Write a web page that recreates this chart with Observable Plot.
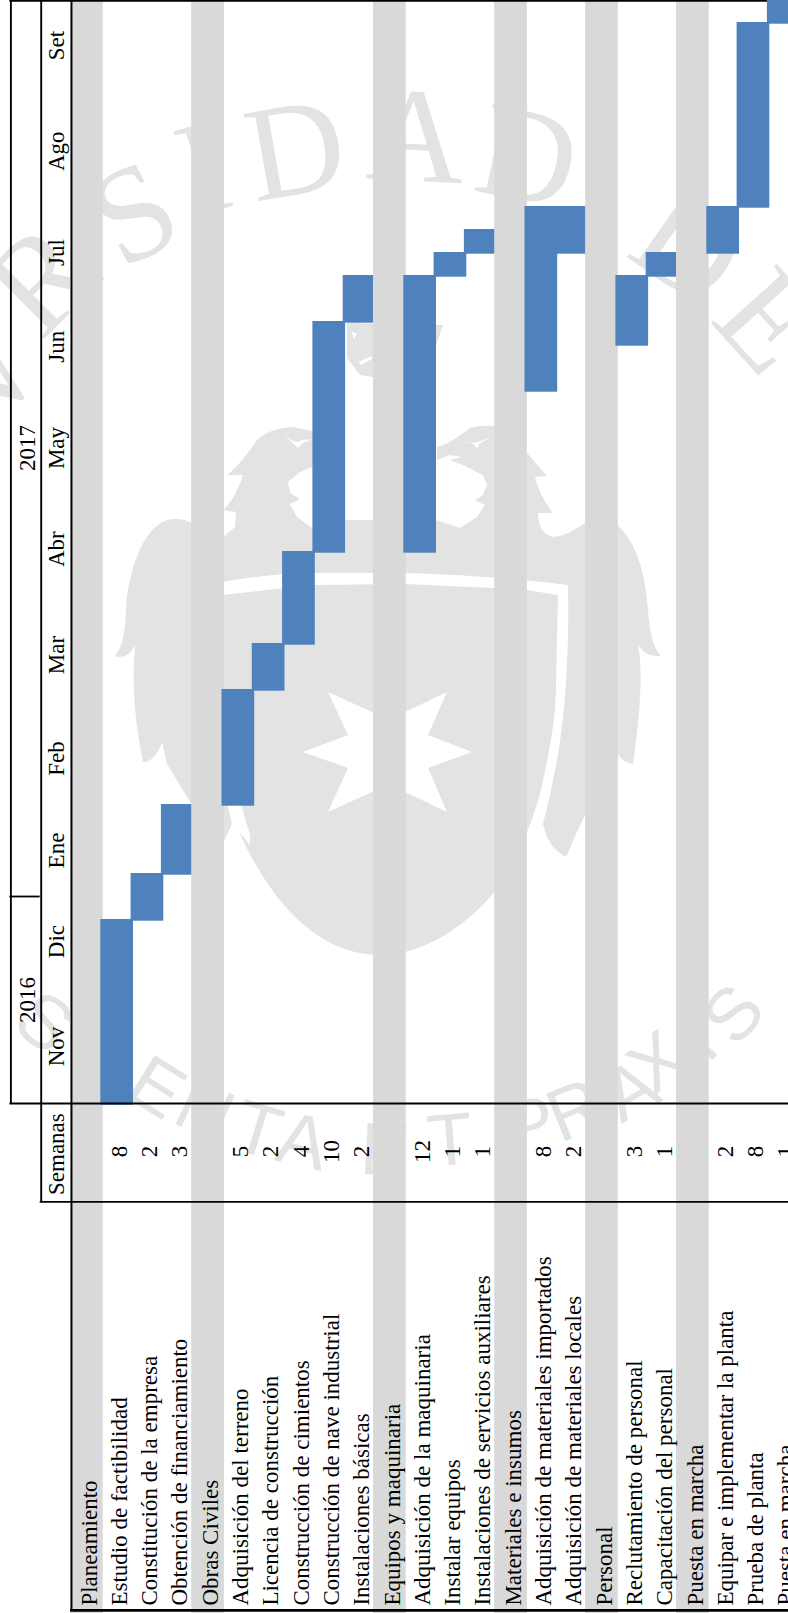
<!DOCTYPE html>
<html lang="es">
<head>
<meta charset="utf-8">
<title>Cronograma de implementación</title>
<script src="https://cdn.jsdelivr.net/npm/d3@7"></script>
<script src="https://cdn.jsdelivr.net/npm/@observablehq/plot@0.6"></script>
<style>
  html, body { margin: 0; padding: 0; background: #fff; }
  svg { display: block; }
</style>
</head>
<body>
<div id="grafico"></div>
<script>
// Filas de la tabla, en orden. Las filas sin semanas son títulos de etapa.
const actividades = [
  "Planeamiento", "Estudio de factibilidad", "Constitución de la empresa", "Obtención de financiamiento",
  "Obras Civiles", "Adquisición del terreno", "Licencia de construcción", "Construcción de cimientos",
  "Construcción de nave industrial", "Instalaciones básicas",
  "Equipos y maquinaria", "Adquisición de la maquinaria", "Instalar equipos", "Instalaciones de servicios auxiliares",
  "Materiales e insumos", "Adquisición de materiales importados", "Adquisición de materiales locales",
  "Personal", "Reclutamiento de personal", "Capacitación del personal",
  "Puesta en marcha", "Equipar e implementar la planta", "Prueba de planta", "Puesta en marcha"
];
const semanas = [null, 8, 2, 3, null, 5, 2, 4, 10, 2, null, 12, 1, 1, null, 8, 2, null, 3, 1, null, 2, 8, 1];
// Semana de inicio de cada actividad, contada desde noviembre de 2016.
// El largo de cada barra sale siempre de la columna Semanas: los materiales
// importados duran 8 semanas y por eso empiezan en la 31 para terminar en la 39.
const inicio = [null, 0, 8, 10, null, 13, 18, 20, 24, 34, null, 24, 36, 37, null, 31, 37, null, 33, 36, null, 37, 39, 47];

const meses = ["Nov", "Dic", "Ene", "Feb", "Mar", "Abr", "May", "Jun", "Jul", "Ago", "Set"];
const mesCentro = [2.48, 7.04, 11.0, 15.0, 19.5, 24.1, 28.5, 32.9, 37, 41.4, 46];
const anios = ["2016", "2017"];
const anioCentro = [4.5, 28.5];

// Extensión de los ejes, en filas (horizontal) y semanas (vertical).
const filaMin = -70 / 30.3, filaMax = 718 / 30.3;
const semanaMin = -510 / 23, semanaMax = 1103 / 23;
const colSemanas = -2.09, colTitulo = -2.2, colNombre = -21.83, corteCabecera = -4.28, baseTabla = -22.04;

// Filas y barras van en una sola marca para que cada fila se solape sobre la anterior.
const celdas = actividades.map((nombre, i) => semanas[i] === null
  ? {fila: i, desde: semanaMin, hasta: semanaMax, tipo: "etapa"}
  : {fila: i, desde: inicio[i], hasta: inicio[i] + semanas[i], tipo: "actividad"});

const lineasH = [
  {s: semanaMax - 0.02, a: -2, b: 23},
  {s: 0, a: -2, b: filaMax},
  {s: 9, a: -2, b: -1},
  {s: corteCabecera, a: -1, b: filaMax}
];
const lineasV = [
  {f: -2, a: 0, b: semanaMax},
  {f: -1, a: corteCabecera, b: semanaMax},
  {f: 0, a: baseTabla, b: semanaMax}
];

// Sello de fondo: leyendas en arco y silueta del escudo.
const leyendaSup = [
  ["V", -16, 372, -55], ["R", 40, 278, -45], ["S", 133, 212, -28], ["I", 203, 167, -17], ["D", 295, 148, -10],
  ["A", 416, 135, 3], ["D", 528, 155, 12], ["D", 690, 245, 35], ["E", 770, 320, 48]
];
const leyendaInf = [
  ["S", 45, 1022, 35], ["C", 100, 1056, 30], ["E", 157, 1087, 32], ["N", 205, 1110, 25], ["T", 258, 1130, 17],
  ["A", 303, 1141, 13], ["E", 385, 1150, 3], ["T", 450, 1140, -5], ["P", 530, 1125, -15], ["R", 575, 1110, -22],
  ["A", 630, 1090, -30], ["X", 657, 1062, -38], ["I", 697, 1040, -45], ["S", 733, 1014, -50]
];
const silueta = "M126,610 C128,570 145,519 175,519 Q185,519 192,523 L223,510 Q235,500 243,475 L227,475 Q240,465 257,440 Q270,428 293,427 L312,431 L345,445 L345,520 L437,520 L437,447 Q450,444 470,428 Q480,425 494,426 Q515,440 527,453 L547,476 L535,477 Q540,497 553,513 L538,513 Q538,535 555,537 Q568,535 585,523 L617,525 C635,540 645,570 648,610 Q650,645 661,656 Q645,658 638,644 Q645,680 633,764 Q622,762 618,754 Q590,800 566,857 Q548,848 543,824 L526,843 C500,900 440,955 380,955 C320,955 265,905 227,802 L232,824 L223,843 L205,860 L192,805 L167,764 L162,742 Q155,762 143,762 Q130,700 135,645 Q128,660 115,656 Q125,645 126,610 Z";
const corona = "M347,323 L443,325 L436,345 L430,375 L373,377 L360,375 L347,358 Z";
const huecos = [
  "M437,460 L450,455 L462,457 L450,460 L463,465 L483,475 L487,485 L483,495 L475,500 L485,505 L477,517 L460,528 L436,520 Z",
  "M345,460 L312,467 L300,472 L288,482 L290,493 L300,499 L290,504 L297,517 L312,528 L345,520 Z",
  "M223,510 L236,512 L235,527 L223,537 Z",
  "M284,436 L293,441 L297,442 L303,440 L312,439 L303,443 L298,448 L293,443 Z",
  "M463,441 L475,443 L492,437 L480,443 L477,448 L472,443 Z",
  "M351,331 L357,334 L354,339 Z",
  "M358,362 L372,356 L372,359 L361,365 Z",
  "M328,692 L372,712 L405,712 L447,692 L428,735 L472,752 L428,768 L447,812 L405,792 L372,792 L328,812 L348,768 L303,752 L348,735 Z",
  "M208,585 C240,578 280,573 313,573 L405,573 Q500,576 568,585 Q570,680 558,754 Q552,790 543,824 L526,845 L526,835 Q540,800 545,771 Q556,720 556,685 L558,595 L527,590 L494,588 L405,584 L313,585 L223,595 L218,595 L220,685 Q222,730 231,771 L250,835 L250,845 L233,824 Q222,790 218,754 Q208,700 208,668 Z"
];

function sello() {
  const g = d3.create("svg:g").attr("fill", "#e3e3e3");
  g.append("path").attr("d", silueta);
  g.append("path").attr("d", corona);
  for (const d of huecos) g.append("path").attr("d", d).attr("fill", "#fff");
  const letras = (lista, familia, tamano) => {
    for (const [c, x, y, giro] of lista) {
      g.append("text").text(c)
        .attr("transform", `translate(${x},${y}) rotate(${giro})`)
        .attr("text-anchor", "middle").attr("dy", "0.34em")
        .attr("font-family", familia).attr("font-size", tamano);
    }
  };
  letras(leyendaSup, "Liberation Serif", 135);
  letras(leyendaInf, "Liberation Sans", 74);
  return g.node();
}

const texto = {rotate: -90, fontFamily: "Liberation Serif", fontSize: 23, fill: "#000", lineAnchor: "middle"};

const grafico = Plot.plot({
  width: 788,
  height: 1613,
  margin: 0,
  style: {background: "transparent"},
  x: {domain: [filaMin, filaMax], range: [0, 788], axis: null},
  y: {domain: [semanaMin, semanaMax], range: [1613, 0], axis: null},
  color: {domain: ["etapa", "actividad"], range: ["#d9d9d9", "#4f81bd"]},
  marks: [
    sello,
    Plot.rect(celdas, {
      x1: "fila", x2: d => d.fila + 1, y1: "desde", y2: "hasta", fill: "tipo",
      insetRight: -2.4, insetBottom: -1.7
    }),
    Plot.ruleY(lineasH, {y: "s", x1: "a", x2: "b", stroke: "#000", strokeWidth: 1.8}),
    Plot.ruleY([baseTabla], {x1: 0, x2: filaMax, stroke: "#000", strokeWidth: 2.7}),
    Plot.ruleX(lineasV, {x: "f", y1: "a", y2: "b", stroke: "#000", strokeWidth: 1.9, dx: 1}),
    Plot.text(actividades, {...texto, x: (d, i) => i + 0.5, y: colNombre, text: d => d, textAnchor: "start", dx: 3.5}),
    Plot.text(semanas.map((v, i) => ({v, i})).filter(d => d.v !== null), {
      ...texto, x: d => d.i + 0.5, y: colSemanas, text: d => String(d.v), textAnchor: "middle", dx: 3.5
    }),
    Plot.text(["Semanas"], {...texto, x: -0.5, y: colTitulo, text: d => d, textAnchor: "middle", dx: 1}),
    Plot.text(meses, {...texto, x: -0.5, y: (d, i) => mesCentro[i], text: d => d, textAnchor: "middle", dx: 1}),
    Plot.text(anios, {...texto, x: -1.5, y: (d, i) => anioCentro[i], text: d => d, textAnchor: "middle", dx: 2.5})
  ]
});
document.getElementById("grafico").appendChild(grafico);
</script>
</body>
</html>
